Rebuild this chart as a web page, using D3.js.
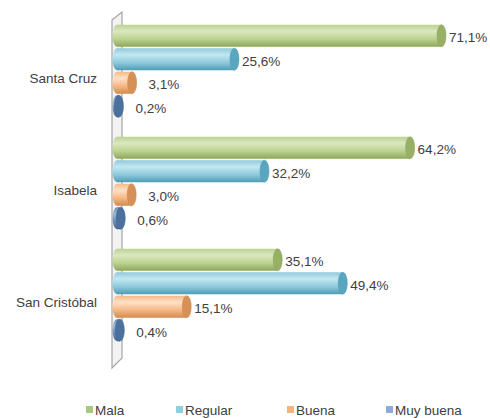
<!DOCTYPE html>
<html>
<head>
<meta charset="utf-8">
<script src="https://cdn.jsdelivr.net/npm/d3@7"></script>
<style>
  body { margin: 0; background: #fff; }
  svg { display: block; font-family: "Liberation Sans", Arial, sans-serif; }
</style>
</head>
<body>
<svg id="chart" width="490" height="418"></svg>
<script>
// data
var islands = ["Santa Cruz", "Isabela", "San Cristóbal"];
var series = ["Mala", "Regular", "Buena", "Muy buena"];
var mala     = [71.1, 64.2, 35.1];
var regular  = [25.6, 32.2, 49.4];
var buena    = [3.1, 3.0, 15.1];
var muyBuena = [0.2, 0.6, 0.4];
var values = [mala, regular, buena, muyBuena];

// colours: [dark, light, mid, cap, legend]
var colors = {
  "Mala":      ["#8ea65c", "#dbe8c2", "#bcd28f", "#98b065", "#a9c87f"],
  "Regular":   ["#4d9db6", "#c4e7f1", "#8fcadc", "#5aa6be", "#8fd0e0"],
  "Buena":     ["#d18a4c", "#fde0c6", "#f6b886", "#d69158", "#f8b47f"],
  "Muy buena": ["#3f6591", "#9db7d6", "#6a8db8", "#4c719c", "#8eabd6"]
};

var svg = d3.select("#chart");

var x = d3.scaleLinear().domain([0, 80]).range([118, 118 + 80 * 4.55]);
var yGroup = d3.scaleBand().domain(islands).range([22, 358]);
var yInner = d3.scaleBand().domain(series).range([2, 96]);
var barH = 22, rx = 4.5;

// gradients for the cylinders
var defs = svg.append("defs");
series.forEach(function(s, i) {
  var c = colors[s];
  var g = defs.append("linearGradient")
      .attr("id", "grad" + i)
      .attr("x1", 0).attr("y1", 0).attr("x2", 0).attr("y2", 1);
  g.append("stop").attr("offset", "0%").attr("stop-color", c[2]);
  g.append("stop").attr("offset", "30%").attr("stop-color", c[1]);
  g.append("stop").attr("offset", "65%").attr("stop-color", c[2]);
  g.append("stop").attr("offset", "100%").attr("stop-color", c[0]);
});

// the 3D side wall
svg.append("path")
    .attr("d", "M112,20 L122,12 L122,358 L112,368 Z")
    .attr("fill", "#f3f3f3")
    .attr("stroke", "#a6a6a6")
    .attr("stroke-width", 1.2);

// bars
islands.forEach(function(isl, gi) {
  series.forEach(function(s, si) {
    var v = values[si][gi];
    var cy = yGroup(isl) + yInner(s) + yInner.bandwidth() / 2;
    var x0 = x(0), x1 = x(v);
    var c = colors[s];
    var bar = svg.append("g").attr("class", "bar");
    // left end
    bar.append("ellipse")
        .attr("cx", x0 - 1).attr("cy", cy)
        .attr("rx", rx).attr("ry", barH / 2)
        .attr("fill", "url(#grad" + si + ")");
    bar.append("rect")
        .attr("x", x0 - 1).attr("y", cy - barH / 2)
        .attr("width", Math.max(0, x1 - x0 + 1)).attr("height", barH)
        .attr("fill", "url(#grad" + si + ")");
    // right cap
    bar.append("ellipse")
        .attr("cx", x1).attr("cy", cy)
        .attr("rx", rx).attr("ry", barH / 2)
        .attr("fill", c[3])
        .attr("stroke", c[0])
        .attr("stroke-width", 0.6);

    svg.append("text")
        .attr("x", x1 + rx + 3 + (v < 5 ? 9 : 0))
        .attr("y", cy + 2)
        .attr("dy", "0.35em")
        .style("font-size", "13.5px")
        .style("fill", "#404040")
        .text(d3.format(".1f")(v).replace(".", ",") + "%");
  });

  svg.append("text")
      .attr("x", 97)
      .attr("y", yGroup(isl) + yGroup.bandwidth() / 2)
      .attr("dy", "0.35em")
      .style("text-anchor", "end")
      .style("font-size", "13.5px")
      .style("fill", "#404040")
      .text(isl);
});

// legend
var legendX = [86, 176, 287, 386];
var legend = svg.append("g").attr("class", "legend");
series.forEach(function(s, i) {
  legend.append("rect")
      .attr("x", legendX[i]).attr("y", 406)
      .attr("width", 7).attr("height", 7)
      .attr("fill", colors[s][4]);
  legend.append("text")
      .attr("x", legendX[i] + 9)
      .attr("y", 410)
      .attr("dy", "0.35em")
      .style("font-size", "13.5px")
      .style("fill", "#404040")
      .text(s);
});
</script>
</body>
</html>
